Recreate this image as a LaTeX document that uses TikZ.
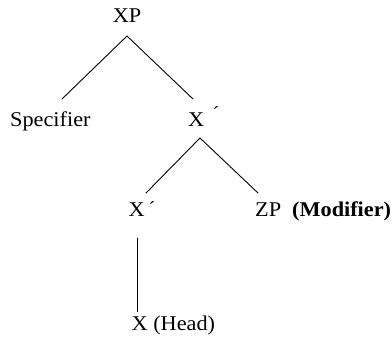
\documentclass[tikz,border=0pt]{standalone}
\usepackage{fontspec}
\setmainfont{Liberation Serif}
\newcommand{\wide}[1]{\scalebox{1.06}[1]{#1}}
\begin{document}
\begin{tikzpicture}[x=1pt,y=1pt,
  lbl/.style={inner sep=0pt, anchor=base west, font=\fontsize{21}{24}\selectfont},
  primemark/.style={inner sep=0pt, font=\fontsize{20}{24}\selectfont},
  edge/.style={line width=0.9pt, line cap=round}]
\useasboundingbox (0,0) rectangle (392,-341);
% labels
\node[lbl, anchor=base] (XP) at (127,-22.7) {\wide{XP}};
\node[lbl] (Spec) at (10,-126.7) {\wide{Specifier}};
\node[lbl] (Xb1) at (188,-126.7) {\wide{X}};
\node[primemark] (Xb1p) at (216,-114) {´};
\node[lbl] (Xb2) at (128.5,-216.7) {\wide{X}};
\node[primemark] (Xb2p) at (152,-209) {´};
\node[lbl] (ZP) at (255,-216.7) {\wide{ZP}};
\node[lbl] (Mod) at (292,-216.7) {\wide{\textbf{(Modifier)}}};
\node[lbl] (X) at (131.5,-330.7) {\wide{X (Head)}};
% joints
\coordinate (j0) at (127,-36);
\coordinate (j0l) at (62,-99);
\coordinate (j0r) at (193,-99);
\coordinate (j1) at (200,-138);
\coordinate (j1l) at (146,-193);
\coordinate (j1r) at (258,-193);
\coordinate (j2) at (137,-238);
\coordinate (j2b) at (137,-311.7);
\draw[edge] (j0l) -- (j0) -- (j0r);
\draw[edge] (j1l) -- (j1) -- (j1r);
\draw[edge] (j2) -- (j2b);
\end{tikzpicture}
\end{document}
